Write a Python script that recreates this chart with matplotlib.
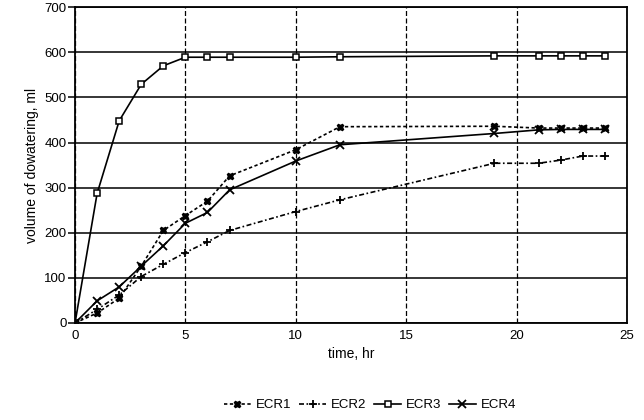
import matplotlib
matplotlib.use("Agg")
import matplotlib.pyplot as plt

plt.rcParams['font.family'] = ['Liberation Sans', 'DejaVu Sans']

# --- data --------------------------------------------------------------
hours = [0, 1, 2, 3, 4, 5, 6, 7, 10, 12, 19, 21, 22, 23, 24]

ecr1 = [0, 22, 55, 126, 205, 238, 270, 326, 384, 435, 436, 432, 432, 432, 432]
ecr2 = [0, 30, 62, 103, 130, 156, 180, 205, 247, 273, 354, 354, 361, 370, 370]
ecr3 = [0, 287, 448, 529, 570, 589, 589, 589, 589, 590, 592, 592, 592, 592, 592]
ecr4 = [0, 49, 80, 126, 171, 221, 245, 295, 359, 395, 420, 428, 429, 429, 429]

x_ticks = [0, 5, 10, 15, 20, 25]
y_ticks = [0, 100, 200, 300, 400, 500, 600, 700]

fig = plt.figure(figsize=(6.44, 4.2), dpi=100)
ax = fig.add_axes([0.1165, 0.231, 0.857, 0.752])

ax.plot(hours, ecr1, color='black', lw=1.2, linestyle=(0, (2, 1.5)),
        marker='X', ms=5, mfc='black', mec='black', label='ECR1')
ax.plot(hours, ecr2, color='black', lw=1.2, linestyle=(0, (3, 1.5, 1, 1.5)),
        marker='+', ms=6, mew=1.3, label='ECR2')
ax.plot(hours, ecr3, color='black', lw=1.2, linestyle='-',
        marker='s', ms=5, mfc='white', mec='black', mew=1.1, label='ECR3')
ax.plot(hours, ecr4, color='black', lw=1.2, linestyle='-',
        marker='x', ms=6, mew=1.3, label='ECR4')

ax.set_xlim(0, 25)
ax.set_ylim(0, 700)
ax.set_xticks(x_ticks)
ax.set_yticks(y_ticks)

# grid: solid horizontal, dashed vertical
ax.yaxis.grid(True, color='black', lw=1.1, linestyle='-')
ax.xaxis.grid(True, color='black', lw=0.9, linestyle=(0, (4, 2)))
ax.set_axisbelow(True)

for s in ax.spines.values():
    s.set_linewidth(1.3)
    s.set_color('black')

ax.tick_params(axis='y', direction='out', length=5, width=1.1, labelsize=9.5, pad=1)
ax.tick_params(axis='x', length=0, labelsize=9.5, pad=5)

ax.set_xlabel('time, hr', fontsize=10, labelpad=4)
ax.set_ylabel('volume of dowatering, ml', fontsize=10, labelpad=4)

fig.legend(loc='center', bbox_to_anchor=(0.575, 0.035), ncol=4, frameon=False,
           fontsize=9.5, handlelength=2.0, handletextpad=0.4, columnspacing=0.6)

fig.savefig('out.png', dpi=100)
